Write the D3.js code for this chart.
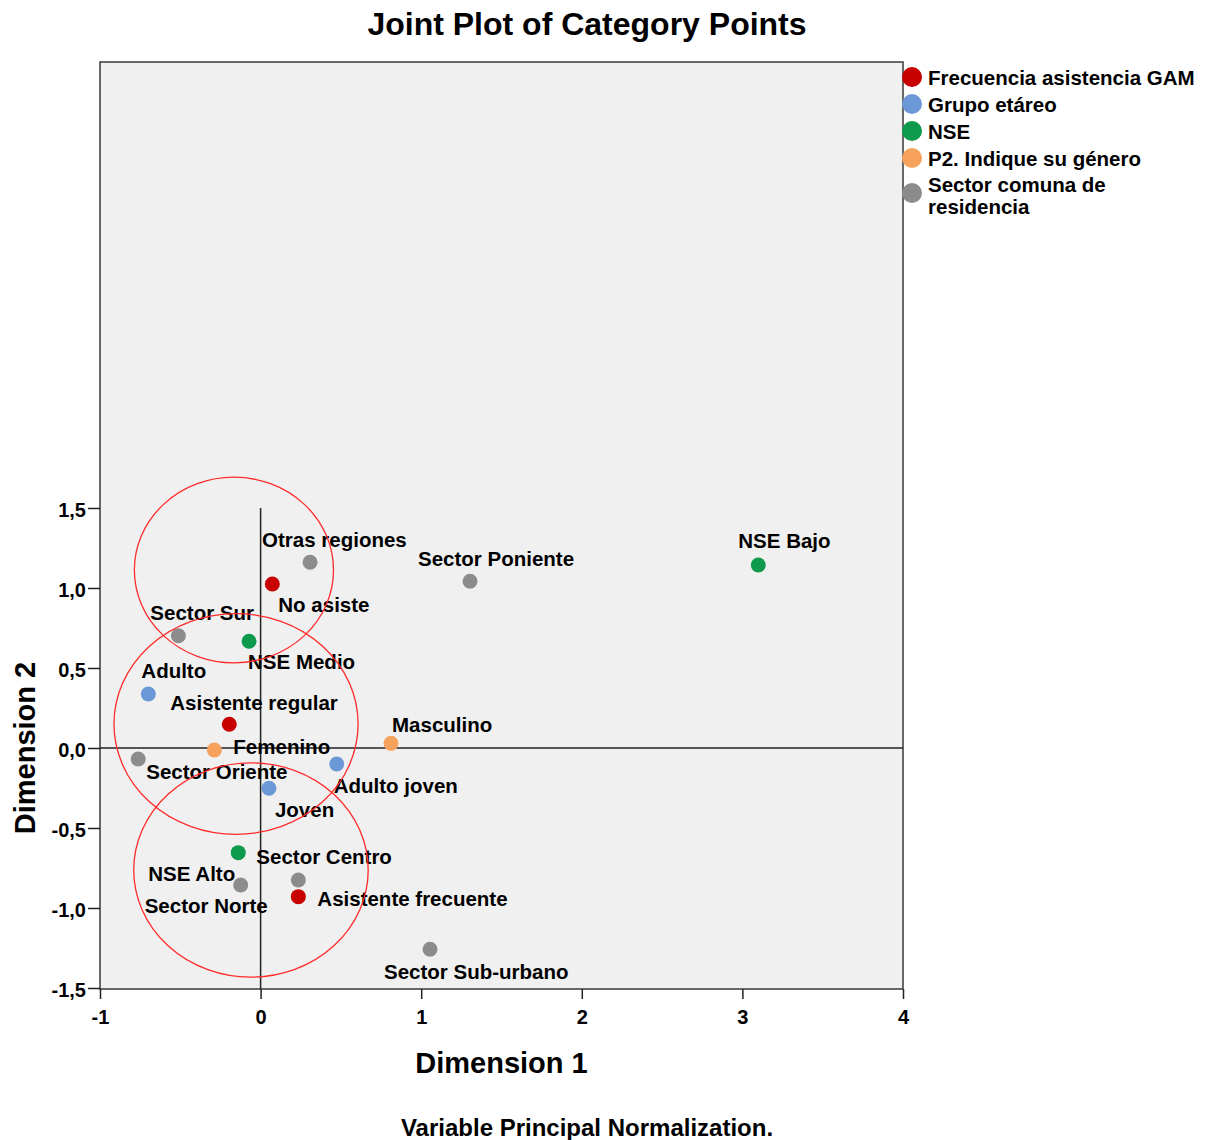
<!DOCTYPE html>
<html>
<head>
<meta charset="utf-8">
<script src="https://cdn.jsdelivr.net/npm/d3@7"></script>
<style>
  html, body { margin: 0; padding: 0; background: #ffffff; }
  svg text { font-family: "Liberation Sans", Arial, Helvetica, sans-serif; font-weight: bold; fill: #000; }
</style>
</head>
<body>
<svg id="chart" width="1205" height="1140"></svg>
<script>
// ---------------- data ----------------
const variables = [
  "Frecuencia asistencia GAM",
  "Grupo etáreo",
  "NSE",
  "P2. Indique su género",
  "Sector comuna de residencia"
];
const variableColors = ["#c80000", "#6b98d6", "#0e9a4c", "#f7a25c", "#8c8c8c"];

const categories = [
  "No asiste", "Asistente regular", "Asistente frecuente",
  "Adulto", "Adulto joven", "Joven",
  "NSE Bajo", "NSE Medio", "NSE Alto",
  "Femenino", "Masculino",
  "Otras regiones", "Sector Poniente", "Sector Sur", "Sector Oriente",
  "Sector Norte", "Sector Centro", "Sector Sub-urbano"
];
const categoryVariable = [0, 0, 0, 1, 1, 1, 2, 2, 2, 3, 3, 4, 4, 4, 4, 4, 4, 4];
const dimension1 = [0.073, -0.195, 0.235, -0.699, 0.474, 0.052, 3.099, -0.072, -0.139,
                    -0.288, 0.812, 0.308, 1.304, -0.512, -0.762, -0.124, 0.235, 1.055];
const dimension2 = [1.025, 0.148, -0.929, 0.3375, -0.100, -0.252, 1.144, 0.667, -0.654,
                    -0.0125, 0.029, 1.161, 1.042, 0.702, -0.069, -0.856, -0.825, -1.258];

const xTicks = [-1, 0, 1, 2, 3, 4];
const yTicks = [-1.5, -1.0, -0.5, 0.0, 0.5, 1.0, 1.5];

// hand-drawn highlight ellipses (data units)
const ellipseCx = [-0.166, -0.153, -0.060];
const ellipseCy = [1.1125, 0.150, -0.7625];
const ellipseRx = [0.620, 0.760, 0.730];
const ellipseRy = [0.580, 0.690, 0.670];

// legend line breaks
const legendLines = [
  ["Frecuencia asistencia GAM"],
  ["Grupo etáreo"],
  ["NSE"],
  ["P2. Indique su género"],
  ["Sector comuna de", "residencia"]
];

// ---------------- layout ----------------
// label offset (px) from the point: left edge of text, vertical centre of text
const labelOffsets = [
  [6, 21], [-59, -22], [19, 2],
  [-7, -23], [-3, 22], [6, 21],
  [-20, -24], [-1, 20], [-90, 21],
  [19, -3], [1, -19],
  [-48, -23], [-52, -23], [-28, -23], [8, 13],
  [-96, 21], [-42, -23], [-46, 22]
];

const svg = d3.select("#chart");
const plot = { left: 100, right: 903, top: 62, bottom: 989 };

const x = d3.scaleLinear().domain([-1, 4]).range([plot.left, plot.right]);
const y = d3.scaleLinear().domain([-1.5, 1.5]).range([988, 508]);

// title
svg.append("text")
  .attr("x", 587).attr("y", 35)
  .attr("text-anchor", "middle")
  .style("font-size", "32px")
  .text("Joint Plot of Category Points");

// plot background / frame
svg.append("rect")
  .attr("x", plot.left).attr("y", plot.top)
  .attr("width", plot.right - plot.left).attr("height", plot.bottom - plot.top)
  .attr("fill", "#f0f0f0")
  .attr("stroke", "#3a3a3a").attr("stroke-width", 1.5);

// reference lines
svg.append("line")
  .attr("x1", plot.left).attr("x2", plot.right)
  .attr("y1", y(0)).attr("y2", y(0))
  .attr("stroke", "#222").attr("stroke-width", 1.5);
svg.append("line")
  .attr("x1", x(0)).attr("x2", x(0))
  .attr("y1", y(1.5)).attr("y2", plot.bottom)
  .attr("stroke", "#222").attr("stroke-width", 1.5);

// axes
const fmtY = d => d3.format(".1f")(d).replace(".", ",").replace("\u2212", "-");
const fmtX = d => d3.format("d")(d).replace("\u2212", "-");
const xAxis = svg.append("g")
  .attr("transform", `translate(0,${plot.bottom})`)
  .call(d3.axisBottom(x).tickValues(xTicks).tickFormat(fmtX).tickSize(10).tickPadding(11));
const yAxis = svg.append("g")
  .attr("transform", `translate(${plot.left},0)`)
  .call(d3.axisLeft(y).tickValues(yTicks).tickFormat(fmtY).tickSize(12).tickPadding(2));
[xAxis, yAxis].forEach(g => {
  g.selectAll(".tick line").attr("stroke", "#222").attr("stroke-width", 1.5);
  g.selectAll(".tick text")
    .style("font-size", "20px")
    .style("font-family", "'Liberation Sans', Arial, sans-serif")
    .style("font-weight", "bold")
    .attr("fill", "#000");
});
xAxis.select(".domain").remove();
yAxis.select(".domain").remove();
yAxis.selectAll(".tick text").attr("dy", "0.4em");

// axis titles
svg.append("text")
  .attr("x", (plot.left + plot.right) / 2).attr("y", 1073)
  .attr("text-anchor", "middle")
  .style("font-size", "29px")
  .text("Dimension 1");
svg.append("text")
  .attr("transform", `translate(35,${y(0)}) rotate(-90)`)
  .attr("text-anchor", "middle")
  .style("font-size", "29px")
  .text("Dimension 2");
svg.append("text")
  .attr("x", 587).attr("y", 1136)
  .attr("text-anchor", "middle")
  .style("font-size", "24px")
  .text("Variable Principal Normalization.");

// points
const idx = d3.range(categories.length);
svg.append("g").selectAll("circle")
  .data(idx).join("circle")
  .attr("cx", i => x(dimension1[i]))
  .attr("cy", i => y(dimension2[i]))
  .attr("r", 7.5)
  .attr("fill", i => variableColors[categoryVariable[i]]);

// labels
svg.append("g").selectAll("text")
  .data(idx).join("text")
  .attr("x", i => x(dimension1[i]) + labelOffsets[i][0])
  .attr("y", i => y(dimension2[i]) + labelOffsets[i][1])
  .attr("dy", "0.36em")
  .style("font-size", "20.5px")
  .text(i => categories[i]);

// highlight ellipses
svg.append("g").selectAll("ellipse")
  .data(d3.range(ellipseCx.length)).join("ellipse")
  .attr("cx", i => x(ellipseCx[i]))
  .attr("cy", i => y(ellipseCy[i]))
  .attr("rx", i => x(ellipseRx[i]) - x(0))
  .attr("ry", i => y(0) - y(ellipseRy[i]))
  .attr("fill", "none")
  .attr("stroke", "#ff2a2a")
  .attr("stroke-width", 1.3);

// legend
const legend = svg.append("g");
let ly = 85;
variables.forEach((v, i) => {
  const lines = legendLines[i];
  const first = ly - (lines.length - 1) * 1;
  lines.forEach((ln, k) => {
    legend.append("text")
      .attr("x", 928).attr("y", first + k * 22)
      .style("font-size", "20.5px")
      .text(ln);
  });
  legend.append("circle")
    .attr("cx", 912).attr("cy", ly - 8 + (lines.length - 1) * 8)
    .attr("r", 10)
    .attr("fill", variableColors[i]);
  ly += 27 + (lines.length - 1) * 20;
});
</script>
</body>
</html>
